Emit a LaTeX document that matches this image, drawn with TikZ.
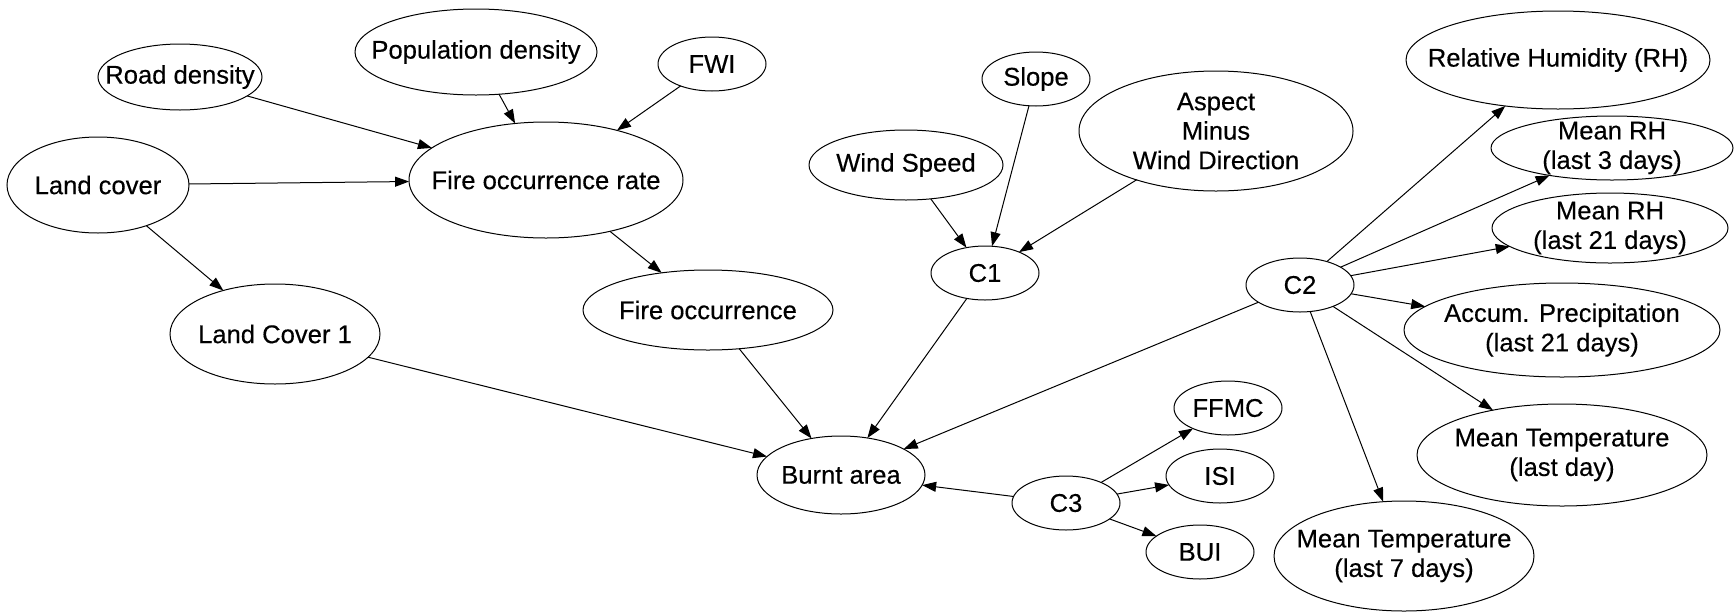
\documentclass[tikz,border=0pt]{standalone}
\usepackage{fontspec}
\setmainfont{Liberation Sans}[FakeBold=0.35]
\usetikzlibrary{arrows.meta,shapes.geometric}
\begin{document}
\begin{tikzpicture}[x=1pt,y=-1pt,
  nd/.style 2 args={draw, ellipse, line width=1pt, minimum width=#1, minimum height=#2,
                    inner sep=0pt, outer sep=0pt},
  txt/.style={font=\fontsize{25.6}{29.5}\selectfont, align=center, inner sep=0pt},
  edge/.style={line width=1pt, -{Triangle[length=14pt,width=10pt]}}
]
\useasboundingbox (0,0) rectangle (1734,611);

% causes of fire occurrence
\node[nd={164pt}{66pt},  label={[txt]center:Road density}]        (road)  at (180,77)  {};
\node[nd={242pt}{86pt},  label={[txt]center:Population density}]  (pop)   at (476,52)  {};
\node[nd={108pt}{54pt},  label={[txt]center:FWI}]                 (fwi)   at (712,64)  {};
\node[nd={182pt}{96pt},  label={[txt]center:Land cover}]          (lc)    at (98,185)  {};
\node[nd={274pt}{116pt}, label={[txt]center:Fire occurrence rate}](for)   at (546,180) {};
\node[nd={250pt}{80pt},  label={[txt]center:Fire occurrence}]     (fo)    at (708,310) {};
\node[nd={210pt}{100pt}, label={[txt]center:Land Cover 1}]        (lcone) at (275,334) {};

% terrain and wind
\node[nd={194pt}{70pt},  label={[txt]center:Wind Speed}]          (wind)  at (906,165) {};
\node[nd={108pt}{54pt},  label={[txt]center:Slope}]               (slope) at (1036,79) {};
\node[nd={274pt}{120pt}, label={[txt]center:Aspect\\Minus\\Wind Direction}] (asp) at (1216,131) {};
\node[nd={108pt}{54pt},  label={[txt]center:C1}]                  (cone)  at (985,273) {};

% outcome
\node[nd={168pt}{78pt},  label={[txt]center:Burnt area}]          (burnt) at (841,475) {};

% fire weather indices
\node[nd={108pt}{54pt},  label={[txt]center:C3}]                  (cthree) at (1066,503) {};
\node[nd={108pt}{54pt},  label={[txt]center:FFMC}]                (ffmc)  at (1228,408) {};
\node[nd={108pt}{54pt},  label={[txt]center:ISI}]                 (isi)   at (1220,476) {};
\node[nd={108pt}{54pt},  label={[txt]center:BUI}]                 (bui)   at (1200,552) {};

% meteorology
\node[nd={108pt}{54pt},  label={[txt]center:C2}]                  (ctwo)  at (1300,285) {};
\node[nd={304pt}{98pt},  label={[txt]center:Relative Humidity (RH)}] (rh) at (1558,60) {};
\node[nd={242pt}{64pt},  label={[txt]center:Mean RH\\(last 3 days)}]  (rhthree) at (1612,148) {};
\node[nd={236pt}{70pt},  label={[txt]center:Mean RH\\(last 21 days)}] (rhtw) at (1610,228) {};
\node[nd={316pt}{94pt},  label={[txt]center:Accum. Precipitation\\(last 21 days)}] (acc) at (1562,330) {};
\node[nd={290pt}{102pt}, label={[txt]center:Mean Temperature\\(last day)}] (mtd) at (1562,455) {};
\node[nd={260pt}{110pt}, label={[txt]center:Mean Temperature\\(last 7 days)}] (mts) at (1404,556) {};

% connectors
\draw[edge] (road) -- (for);
\draw[edge] (pop) -- (for);
\draw[edge] (fwi) -- (for);
\draw[edge] (lc) -- (for);
\draw[edge] (lc) -- (lcone);
\draw[edge] (for) -- (fo);
\draw[edge] (lcone) -- (burnt);
\draw[edge] (fo) -- (burnt);
\draw[edge] (wind) -- (cone);
\draw[edge] (slope) -- (cone);
\draw[edge] (asp) -- (cone);
\draw[edge] (cone) -- (burnt);
\draw[edge] (ctwo) -- (burnt);
\draw[edge] (cthree) -- (burnt);
\draw[edge] (cthree) -- (ffmc);
\draw[edge] (cthree) -- (isi);
\draw[edge] (cthree) -- (bui);
\draw[edge] (ctwo) -- (rh);
\draw[edge] (ctwo) -- (rhthree);
\draw[edge] (ctwo) -- (rhtw);
\draw[edge] (ctwo) -- (acc);
\draw[edge] (ctwo) -- (mtd);
\draw[edge] (ctwo) -- (mts);
\end{tikzpicture}
\end{document}
